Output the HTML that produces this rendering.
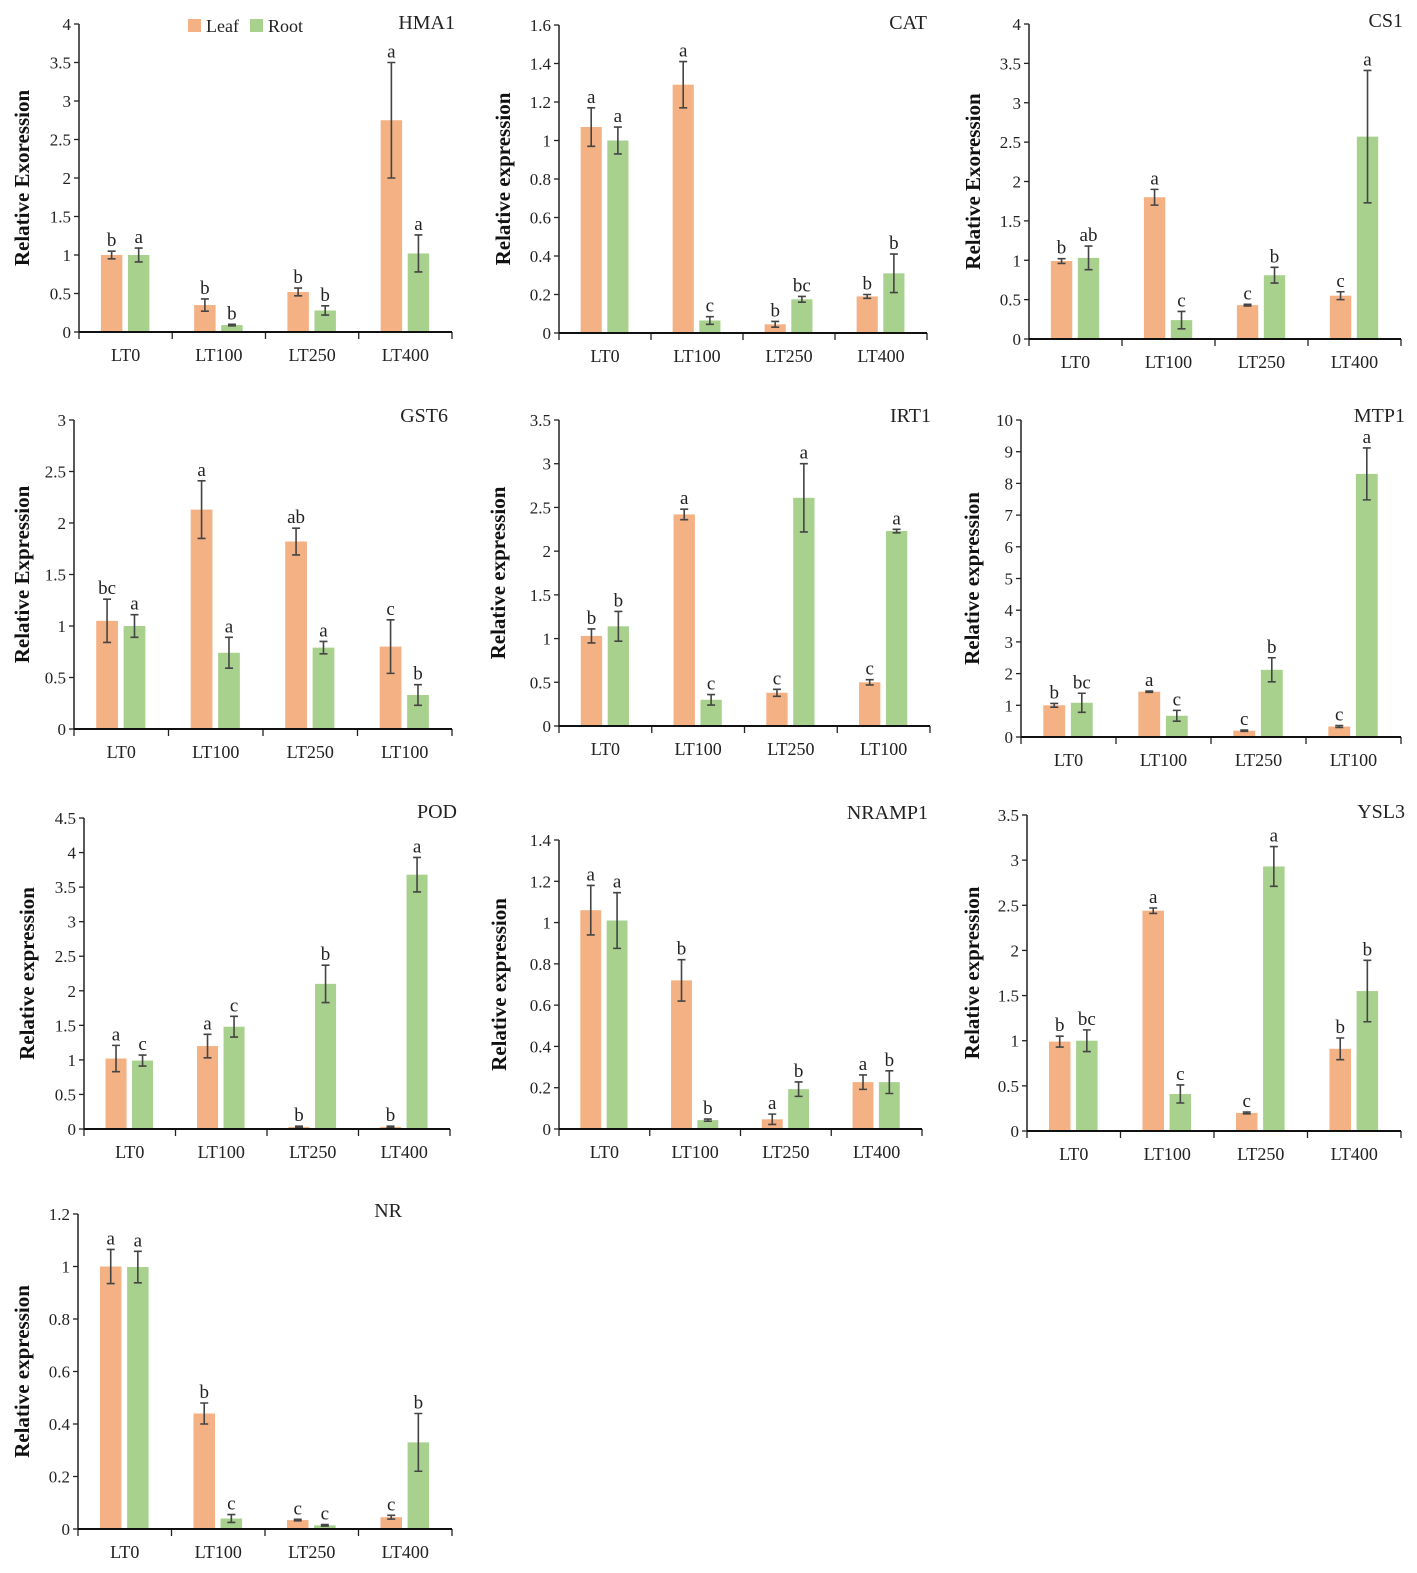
<!DOCTYPE html>
<html><head><meta charset="utf-8"><style>
html,body{margin:0;padding:0;background:#fff}
svg{display:block}
text{font-family:"Liberation Serif","DejaVu Serif",serif}
</style></head><body>
<svg id="fig" width="1417" height="1573" viewBox="0 0 1417 1573" xmlns="http://www.w3.org/2000/svg" font-family="Liberation Serif, serif">
<g>
<rect x="188" y="19" width="13" height="13" fill="#F4B183"/>
<text x="206" y="32" font-size="18" fill="#222">Leaf</text>
<rect x="250" y="19" width="13" height="13" fill="#A9D18E"/>
<text x="268" y="32" font-size="18" fill="#222">Root</text>
</g>
</svg>
<script>
const NS="http://www.w3.org/2000/svg";
const svg=document.getElementById('fig');
// ---- data ----
const titles=["HMA1","CAT","CS1","GST6","IRT1","MTP1","POD","NRAMP1","YSL3","NR"];
const yTitles=["Relative Exoression","Relative expression","Relative Exoression","Relative Expression","Relative expression","Relative expression","Relative expression","Relative expression","Relative expression","Relative expression"];
const catsA=["LT0","LT100","LT250","LT400"];
const catsB=["LT0","LT100","LT250","LT100"];
const yMax=[4,1.6,4,3,3.5,10,4.5,1.4,3.5,1.2];
const yStep=[0.5,0.2,0.5,0.5,0.5,1,0.5,0.2,0.5,0.2];
const leafVals=[[1.0,0.35,0.52,2.75],[1.07,1.29,0.045,0.19],[0.99,1.8,0.43,0.55],[1.05,2.13,1.82,0.8],[1.03,2.42,0.38,0.5],[1.0,1.43,0.2,0.33],[1.02,1.2,0.03,0.03],[1.06,0.72,0.047,0.227],[0.99,2.44,0.2,0.91],[1.0,0.44,0.034,0.045]];
const leafErr=[[0.05,0.08,0.05,0.75],[0.1,0.12,0.015,0.01],[0.03,0.1,0.01,0.05],[0.21,0.28,0.13,0.26],[0.08,0.06,0.04,0.03],[0.06,0.02,0.02,0.03],[0.19,0.17,0.01,0.01],[0.12,0.1,0.025,0.035],[0.06,0.03,0.01,0.12],[0.065,0.04,0.003,0.007]];
const rootVals=[[1.0,0.09,0.28,1.02],[1.0,0.065,0.175,0.31],[1.03,0.24,0.81,2.57],[1.0,0.74,0.79,0.33],[1.14,0.3,2.61,2.23],[1.08,0.67,2.12,8.3],[0.99,1.48,2.1,3.68],[1.01,0.043,0.193,0.227],[1.0,0.41,2.93,1.55],[0.998,0.04,0.014,0.33]];
const rootErr=[[0.09,0.01,0.06,0.24],[0.07,0.02,0.015,0.1],[0.15,0.11,0.1,0.84],[0.11,0.15,0.06,0.1],[0.17,0.06,0.39,0.02],[0.3,0.17,0.38,0.82],[0.08,0.15,0.27,0.25],[0.135,0.005,0.035,0.055],[0.12,0.1,0.22,0.34],[0.06,0.015,0.003,0.11]];
const leafLet=[["b","b","b","a"],["a","a","b","b"],["b","a","c","c"],["bc","a","ab","c"],["b","a","c","c"],["b","a","c","c"],["a","a","b","b"],["a","b","a","a"],["b","a","c","b"],["a","b","c","c"]];
const rootLet=[["a","b","b","a"],["a","c","bc","b"],["ab","c","b","a"],["a","a","a","b"],["b","c","a","a"],["bc","c","b","a"],["c","c","b","a"],["a","b","b","b"],["bc","c","a","b"],["a","c","c","b"]];
// ---- layout (pixel geometry, not data) ----
const L=[
 {x0:79,x1:452,top:24,zero:332,tx:455,ty:29,yt:22},
 {x0:559,x1:927,top:25,zero:333,tx:927,ty:29,yt:503},
 {x0:1029,x1:1401,top:24,zero:339,tx:1403,ty:27,yt:973},
 {x0:74,x1:452,top:420,zero:729,tx:448,ty:422,yt:22},
 {x0:559,x1:930,top:420,zero:726,tx:931,ty:422,yt:498},
 {x0:1021,x1:1401,top:420,zero:737,tx:1405,ty:422,yt:972},
 {x0:84,x1:450,top:818,zero:1129,tx:457,ty:818,yt:27},
 {x0:559,x1:922,top:840,zero:1129,tx:928,ty:819,yt:499},
 {x0:1027,x1:1401,top:815,zero:1131,tx:1405,ty:818,yt:972},
 {x0:78,x1:452,top:1214,zero:1529,tx:402,ty:1217,yt:22}
];
function mk(tag,attrs,parent){const e=document.createElementNS(NS,tag);for(const k in attrs)e.setAttribute(k,attrs[k]);if(tag==='text')e.setAttribute('font-family','Liberation Serif, serif');(parent||svg).appendChild(e);return e;}
for(let p=0;p<10;p++){
 const g=L[p];
 const grp=mk('g',{});
 
 
 const yS=v=>g.zero-(v/yMax[p])*(g.zero-g.top);
 const gw=(g.x1-g.x0)/4;
 const xG=i=>g.x0+i*gw;
 const cats=(p>=3&&p<=5)?catsB:catsA;
 const t=mk('text',{x:g.tx,y:g.ty,'font-size':20,'text-anchor':'end',fill:'#222'},grp);
 t.textContent=titles[p];
 
 
 const ym=(g.top+g.zero)/2;
 const yt=mk('text',{x:g.yt,y:ym,'font-size':21,'font-weight':'bold','text-anchor':'middle',fill:'#111',transform:`rotate(-90 ${g.yt} ${ym})`,dy:7},grp);
 yt.textContent=yTitles[p];
 
 
 const n=Math.round(yMax[p]/yStep[p]);
 for(let k=0;k<=n;k++){
  const v=+(k*yStep[p]).toFixed(2);const y=yS(v);
  const tk=mk('line',{x1:g.x0-5,x2:g.x0,y1:y,y2:y,stroke:'#222','stroke-width':1.3},grp);
  
  
  const tl=mk('text',{x:g.x0-8,y:y+6,'font-size':17,'text-anchor':'end',fill:'#222'},grp);
  tl.textContent=String(v);
  
  
 }
 for(let i=0;i<4;i++){
  const series=[[leafVals[p][i],leafErr[p][i],leafLet[p][i],'#F4B183',0.235,'leaf'],[rootVals[p][i],rootErr[p][i],rootLet[p][i],'#A9D18E',0.525,'root']];
  for(const s of series){
   const bx=xG(i)+s[4]*gw, bw=0.23*gw, y=yS(s[0]);
   const r=mk('rect',{x:bx,y:y,width:bw,height:g.zero-y,fill:s[3]},grp);
   
   
   const cx=bx+bw/2, yh=yS(s[0]+s[1]), yl=yS(Math.max(0,s[0]-s[1]));
   const eb=mk('path',{d:`M${cx},${yh}V${yl}M${cx-4},${yh}H${cx+4}M${cx-4},${yl}H${cx+4}`,stroke:'#444','stroke-width':1.6,fill:'none'},grp);
   
   
   const lt=mk('text',{x:cx,y:yh-5,'font-size':19,'text-anchor':'middle',fill:'#222'},grp);
   lt.textContent=s[2];
   
   
  }
  const xl=mk('text',{x:xG(i)+gw/2,y:g.zero+29,'font-size':18,'text-anchor':'middle',fill:'#222'},grp);
  xl.textContent=cats[i];
  
  
 }
 for(let i=0;i<=4;i++){
  const tk=mk('line',{x1:xG(i),x2:xG(i),y1:g.zero,y2:g.zero+7,stroke:'#222','stroke-width':1.3},grp);
  
  
 }
 const ya=mk('line',{x1:g.x0,x2:g.x0,y1:g.top,y2:g.zero,stroke:'#222','stroke-width':1.5},grp);
 
 
 const xa=mk('line',{x1:g.x0,x2:g.x1,y1:g.zero,y2:g.zero,stroke:'#111','stroke-width':2},grp);
 
 
}
</script>
</body></html>
